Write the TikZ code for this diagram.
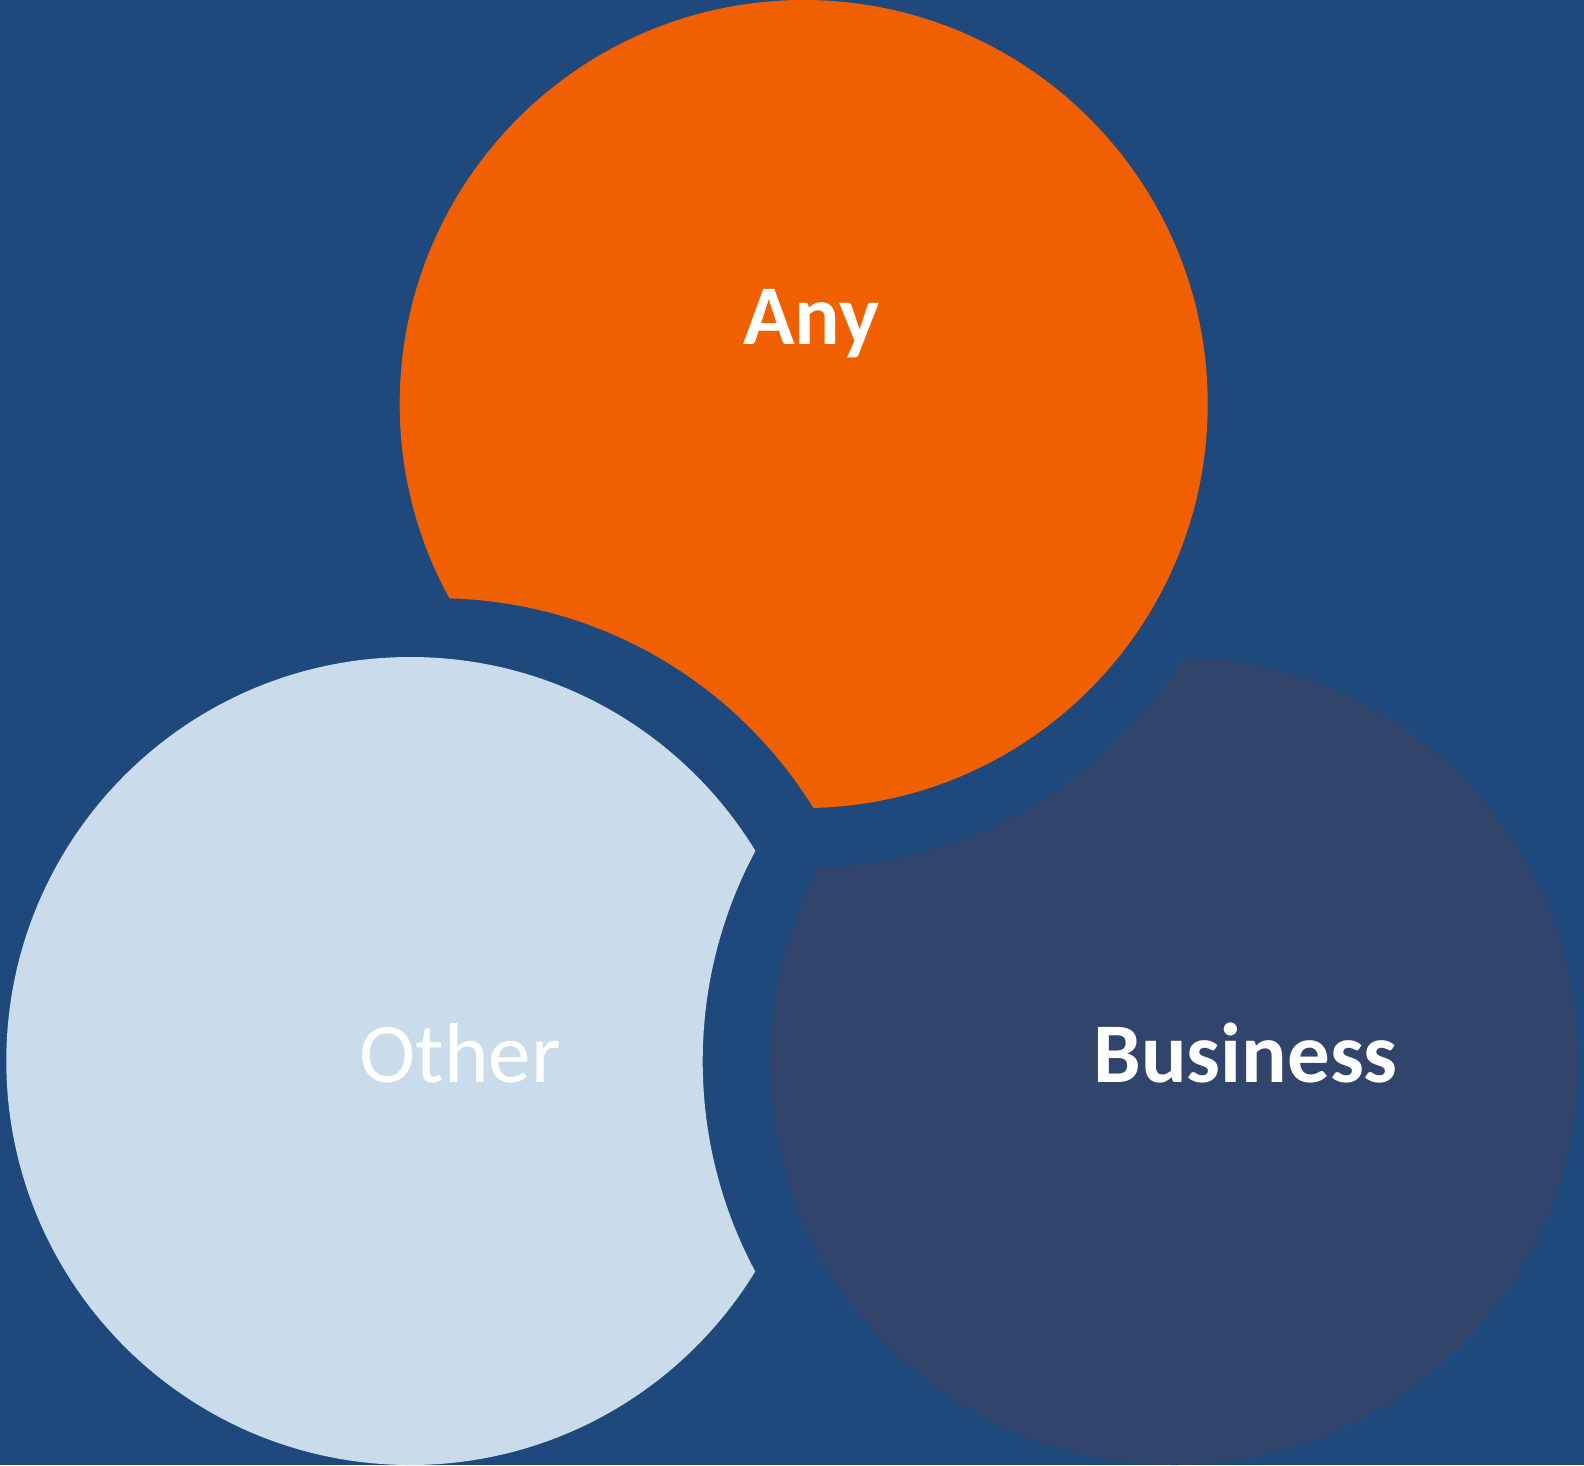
\documentclass[tikz,border=0pt]{standalone}
\usepackage{fontspec}
\setmainfont{Carlito}
\definecolor{bgblue}{HTML}{1F497D}
\definecolor{anyorange}{HTML}{F06000}
\definecolor{otherblue}{HTML}{CADCEB}
\definecolor{bizblue}{HTML}{31446B}
\tikzset{
  lbl/.style={text=white, anchor=base, inner sep=0pt, font=\fontsize{85}{85}\selectfont},
}
\begin{document}
\begin{tikzpicture}[x=1pt,y=-1pt]
\fill[bgblue] (0,0) rectangle (1584,1465);
\useasboundingbox (0,0) rectangle (1584,1465);
% Any (orange), cut by a circle around Other
\begin{scope}[even odd rule]
  \clip (0,0) rectangle (1584,1465) (437.4,1039.9) circle (441.7pt);
  \fill[anyorange] (803.7,404) circle (404pt);
\end{scope}
% Other (light blue), cut by a circle around Business
\begin{scope}[even odd rule]
  \clip (0,0) rectangle (1584,1465) (1148.4,1061.3) circle (445.7pt);
  \fill[otherblue] (410.3,1061) circle (404pt);
\end{scope}
% Business (dark), cut by a circle around Any
\begin{scope}[even odd rule]
  \clip (0,0) rectangle (1584,1465) (807,424.6) circle (443pt);
  \fill[bizblue] (1174,1061) circle (404pt);
\end{scope}
\node[lbl] (any) at (811.4,344.5) {\bfseries Any};
\node[lbl] (other) at (460,1082) {Other};
\node[lbl] (business) at (1245.6,1082) {\bfseries Business};
\end{tikzpicture}
\end{document}
